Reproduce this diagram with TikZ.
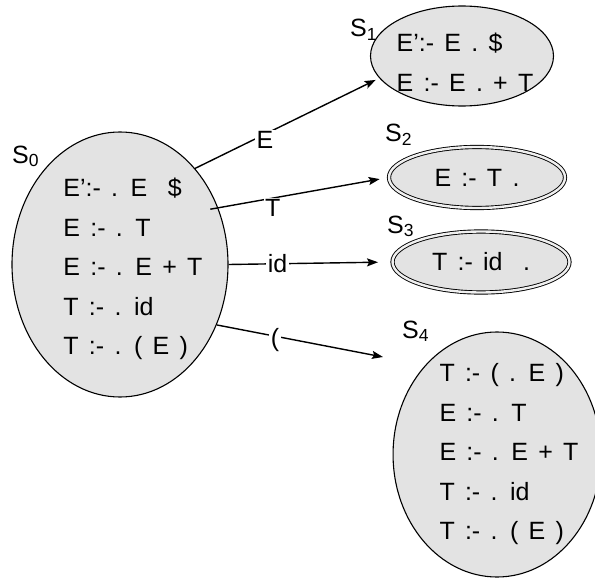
\documentclass[tikz,border=0pt]{standalone}
\usepackage{fontspec}
\setmainfont{Liberation Sans}
\usetikzlibrary{arrows.meta,shapes.geometric,positioning}

\protected\def\itemfont{\fontsize{25}{39.5}\selectfont\spaceskip=0.41em\relax}
\newcommand\ind[1]{\hspace*{#1}}

\begin{document}
\begin{tikzpicture}[
    x=1pt, y=-1pt,
    >={Stealth[length=11pt,width=8pt,inset=2pt]},
    txt/.style={font=\itemfont},
    state/.style={
        txt,
        ellipse,
        draw=black,
        fill=black!11,
        line width=1.1pt,
        align=left,
        inner xsep=-8pt,
        inner ysep=-8pt
    },
    final/.style={
        state,
        line width=0.9pt,
        double=black!6,
        double distance=2.4pt
    },
    slbl/.style={txt, anchor=base west, inner sep=0pt},
    elbl/.style={txt, fill=white, inner sep=1.5pt},
    trans/.style={->, line width=1.4pt}
]
\useasboundingbox (0,0) rectangle (595,578);

% Item sets
\node[state, minimum width=216pt, minimum height=265pt] (s0) at (120,264.5) {
    \rule{0pt}{28pt}\ind{26pt}E':- . E \ \$\\
    \ind{26pt}E :- . T\\
    \ind{26pt}E :- . E + T\\
    \ind{26pt}T :- . id\\
    \ind{26pt}T :- . ( E )
};
\node[state, minimum width=183pt, minimum height=100pt] (s1) at (462,56) {
    \rule{0pt}{31pt}\ind{6pt}E':- E . \$\\
    \ind{6pt}E :- E . + T
};
\node[final, minimum width=176pt, minimum height=61pt] (s2) at (477,177.5) {E :- T .};
\node[final, minimum width=177pt, minimum height=61pt] (s3) at (481,262) {T :- id \ .};
\node[state, minimum width=190pt, minimum height=245pt] (s4) at (497,454.5) {
    \ind{24pt}T :- ( . E )\\
    \ind{24pt}E :- . T\\
    \ind{24pt}E :- . E + T\\
    \ind{24pt}T :- . id\\
    \ind{24pt}T :- . ( E )
};

% State names
\node[slbl] (s0name) at (12,163) {S\textsubscript{0}};
\node[slbl] (s1name) at (350,37) {S\textsubscript{1}};
\node[slbl] (s2name) at (385,142) {S\textsubscript{2}};
\node[slbl] (s3name) at (387,233) {S\textsubscript{3}};
\node[slbl] (s4name) at (402,338) {S\textsubscript{4}};

\coordinate (s4in) at (383,357);

% Transitions
\draw[trans, shorten >=4pt] (s0.52) -- node[elbl, pos=0.38, yshift=-6pt] {E} (s1.195);
\draw[trans, shorten <=-8pt, shorten >=9pt] (s0.30) -- node[elbl, pos=0.32, yshift=-10pt] {T} (s2.west);
\draw[trans, shorten >=14pt] (s0.east) -- node[elbl, pos=0.3] {id} (s3.west);
\draw[trans] (s0.-32) -- node[elbl, pos=0.35, yshift=-4pt] {(} (s4in);

\end{tikzpicture}
\end{document}
